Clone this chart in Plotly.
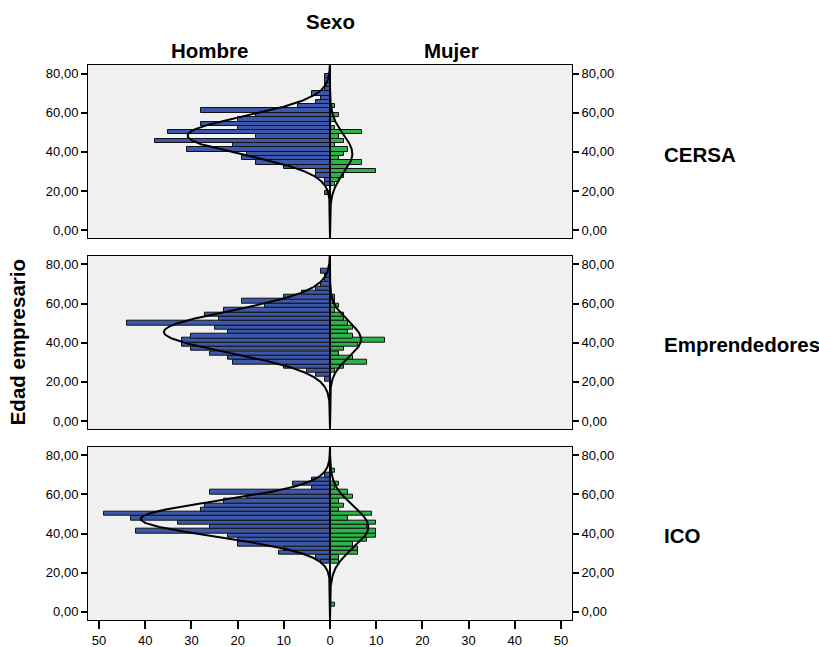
import numpy as np
import plotly.graph_objects as go

# ---------------- data ----------------
AGE_BINS = [3.6, 5.8, 8.0, 10.2, 12.4, 14.7, 16.9, 19.1, 21.3, 23.5, 25.7, 27.9,
            30.1, 32.3, 34.5, 36.8, 39.0, 41.2, 43.4, 45.6, 47.8, 50.0, 52.2, 54.4,
            56.6, 58.9, 61.1, 63.3, 65.5, 67.7, 69.9, 72.1, 74.3, 76.5, 78.7]
BIN_WIDTH = 2.21

GROUPS = ["CERSA", "Emprendedores", "ICO"]
SEXES = ["Hombre", "Mujer"]

CERSA_HOMBRE = [0, 0, 0, 0, 0, 0, 0, 1, 0, 1, 1, 3, 3, 10, 16, 19, 18, 31, 21, 38, 16, 35,
                20, 28, 20, 16, 28, 7, 3, 2, 4, 1, 1, 1, 1]
CERSA_MUJER = [0, 0, 0, 0, 0, 0, 0, 0, 0, 1, 2, 3, 10, 4, 7, 2, 3, 4, 1, 3, 2, 7,
               1, 0, 1, 2, 0, 1, 0, 0, 0, 0, 0, 0, 0]
EMPR_HOMBRE = [0, 0, 0, 0, 0, 0, 0, 0, 1, 3, 5, 10, 21, 22, 26, 30, 32, 32, 30, 22, 25, 44,
               24, 27, 23, 14, 19, 10, 6, 3, 2, 1, 1, 2, 0]
EMPR_MUJER = [0, 0, 0, 0, 0, 0, 0, 0, 0, 0, 1, 3, 8, 5, 2, 3, 6, 12, 5, 4, 5, 4,
              3, 3, 1, 2, 1, 1, 0, 0, 0, 0, 0, 0, 0]
ICO_HOMBRE = [0, 0, 0, 0, 0, 0, 0, 0, 0, 0, 2, 3, 11, 10, 20, 20, 22, 42, 26, 33, 43, 49,
              28, 27, 23, 18, 26, 4, 8, 4, 1, 0, 0, 0, 0]
ICO_MUJER = [1, 0, 0, 0, 0, 0, 0, 0, 0, 0, 2, 2, 6, 6, 5, 8, 10, 10, 8, 10, 4, 9,
             2, 3, 2, 5, 4, 1, 2, 0, 0, 1, 0, 0, 0]

PANELS = [(CERSA_HOMBRE, CERSA_MUJER), (EMPR_HOMBRE, EMPR_MUJER), (ICO_HOMBRE, ICO_MUJER)]

Y_TICKS = [0, 20, 40, 60, 80]
Y_TICKTEXT = ["0,00", "20,00", "40,00", "60,00", "80,00"]
X_TICKS = [-50, -40, -30, -20, -10, 0, 10, 20, 30, 40, 50]
X_TICKTEXT = ["50", "40", "30", "20", "10", "0", "10", "20", "30", "40", "50"]

# ---------------- style ----------------
BLUE = "#3D58AB"
GREEN = "#2DB34A"
BG = "#F0F0F0"
FONT = "Liberation Sans, Arial, sans-serif"
X_RANGE = [-52.4, 52.4]
Y_RANGE = [-4.2, 84.4]
DOMAINS = [[0.6877, 1.0], [0.3436, 0.6564], [0.0, 0.3123]]


def normal_curve(ages, counts, yy):
    a = np.array(ages, dtype=float)
    c = np.array(counts, dtype=float)
    n = c.sum()
    mean = (a * c).sum() / n
    sd = np.sqrt((c * (a - mean) ** 2).sum() / (n - 1))
    pdf = np.exp(-0.5 * ((yy - mean) / sd) ** 2) / (sd * np.sqrt(2 * np.pi))
    return n * BIN_WIDTH * pdf


fig = go.Figure()
yy = np.linspace(Y_RANGE[0], Y_RANGE[1], 500)

for i, (hombre, mujer) in enumerate(PANELS):
    xa = "x" if i == 0 else f"x{i + 1}"
    ya = "y" if i == 0 else f"y{i + 1}"
    for counts, sign, color in ((hombre, -1, BLUE), (mujer, 1, GREEN)):
        ys = [a for a, c in zip(AGE_BINS, counts) if c > 0]
        xs = [sign * c for c in counts if c > 0]
        fig.add_trace(go.Bar(
            y=ys, x=xs, orientation="h", width=BIN_WIDTH,
            marker=dict(color=color, line=dict(color="#111111", width=1)),
            xaxis=xa, yaxis=ya, showlegend=False, hoverinfo="skip"))
    for counts, sign in ((hombre, -1), (mujer, 1)):
        xx = sign * normal_curve(AGE_BINS, counts, yy)
        fig.add_trace(go.Scatter(
            x=xx, y=yy, mode="lines", line=dict(color="black", width=2),
            xaxis=xa, yaxis=ya, showlegend=False, hoverinfo="skip"))
    # invisible trace for the right-side axis
    fig.add_trace(go.Scatter(
        x=[0], y=[40], mode="markers", marker=dict(opacity=0), xaxis=xa,
        yaxis=f"y{i + 4}", showlegend=False, hoverinfo="skip"))

layout = dict(
    width=819, height=647,
    margin=dict(l=88, r=247, t=65, b=27, autoexpand=False),
    paper_bgcolor="white", plot_bgcolor=BG,
    font=dict(family=FONT, size=13, color="black"),
    barmode="overlay", bargap=0,
)

axis_line = dict(showline=True, linecolor="black", linewidth=1, mirror=True,
                 showgrid=False, zeroline=False, automargin=False)

shapes = []
for i in range(3):
    xk = "xaxis" if i == 0 else f"xaxis{i + 1}"
    yk = "yaxis" if i == 0 else f"yaxis{i + 1}"
    xa = "x" if i == 0 else f"x{i + 1}"
    ya = "y" if i == 0 else f"y{i + 1}"
    xcfg = dict(domain=[0, 1], anchor=ya, range=X_RANGE, fixedrange=True, **axis_line)
    if i == 2:
        xcfg.update(tickvals=X_TICKS, ticktext=X_TICKTEXT, ticks="outside",
                    ticklen=8, tickwidth=1.5, tickcolor="black",
                    tickfont=dict(size=13))
    else:
        xcfg.update(showticklabels=False, ticks="")
    layout[xk] = xcfg
    layout[yk] = dict(domain=DOMAINS[i], anchor=xa, range=Y_RANGE,
                      tickvals=Y_TICKS, ticktext=Y_TICKTEXT, ticks="outside",
                      ticklen=6, tickwidth=1.5, tickcolor="black",
                      tickfont=dict(size=13), **axis_line)
    layout[f"yaxis{i + 4}"] = dict(overlaying=ya, anchor=xa, side="right",
                                   range=Y_RANGE, tickvals=Y_TICKS,
                                   ticktext=Y_TICKTEXT, ticks="outside",
                                   ticklen=6, tickwidth=1.5, tickcolor="black",
                                   tickfont=dict(size=13), showgrid=False,
                                   zeroline=False, showline=False,
                                   automargin=False)
    shapes.append(dict(type="line", xref=xa, yref=f"{ya} domain", x0=0, x1=0,
                       y0=0, y1=1, line=dict(color="black", width=2),
                       layer="above"))

layout["shapes"] = shapes

title_font = dict(family=FONT, size=20.5, color="black")
annotations = [
    dict(text="<b>Sexo</b>", x=0.5, y=1.0775, xref="paper", yref="paper",
         showarrow=False, xanchor="center", yanchor="middle", font=title_font),
    dict(text="<b>Hombre</b>", x=0.25, y=1.027, xref="paper", yref="paper",
         showarrow=False, xanchor="center", yanchor="middle", font=title_font),
    dict(text="<b>Mujer</b>", x=0.75, y=1.027, xref="paper", yref="paper",
         showarrow=False, xanchor="center", yanchor="middle", font=title_font),
    dict(text="<b>Edad empresario</b>", x=-0.145, y=0.5, xref="paper",
         yref="paper", showarrow=False, textangle=-90, xanchor="center",
         yanchor="middle", font=title_font),
]
group_y = [0.838, 0.4955, 0.153]
for g, gy in zip(GROUPS, group_y):
    annotations.append(dict(text=f"<b>{g}</b>", x=1.186, y=gy, xref="paper",
                            yref="paper", showarrow=False, xanchor="left",
                            yanchor="middle", font=title_font))
layout["annotations"] = annotations

fig.update_layout(**layout)
fig.write_html("out.html")
